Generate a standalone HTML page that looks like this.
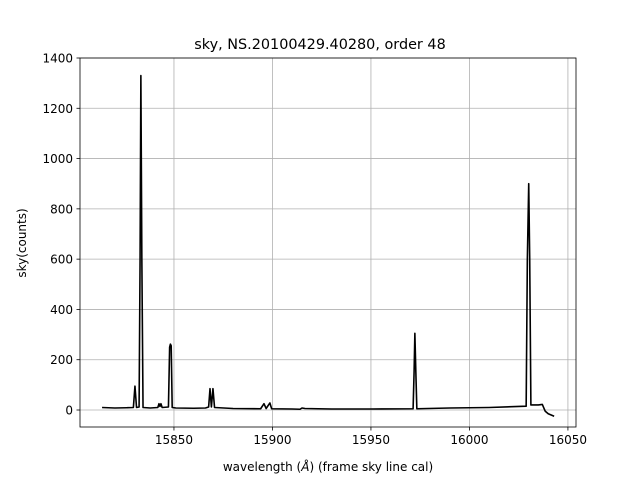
<!DOCTYPE html>
<html><head><meta charset="utf-8"><style>
body{margin:0;background:#fff;}
svg{display:block;font-family:"DejaVu Sans","Liberation Sans",sans-serif;}
</style></head><body>
<svg id="chart" width="640" height="480" xmlns="http://www.w3.org/2000/svg"></svg>
<script>
const wavelengths=[15813.5,15820,15826,15829.4,15830.2,15831,15832.3,15832.8,15833.2,15833.7,15834.3,15838,15841.8,15842.4,15842.9,15843.4,15844,15847.2,15847.8,15848.2,15848.6,15849.1,15851,15860,15866,15867.6,15868.3,15869,15869.8,15870.6,15880,15894,15895.7,15896.8,15898.7,15899.6,15910,15914,15915,15916.5,15930,15950,15971.4,15971.9,15972.3,15972.8,15973.3,15990,16010,16028.8,16029.4,16030.1,16030.6,16031.2,16035,16037,16038.5,16040,16043];
const skyCounts=[10,8,9,10,95,10,12,600,1330,600,10,8,10,25,14,25,10,12,250,262,255,10,8,7,8,12,85,12,85,10,6,5,25,6,28,5,4,3,8,6,4,4,5,150,305,150,5,8,10,15,600,900,600,20,20,22,-5,-15,-25];
const xTicks=[15850,15900,15950,16000,16050];
const yTicks=[0,200,400,600,800,1000,1200,1400];
const L=80,R=576,T=58,B=427;
const xmin=15802.3,xmax=16054.1,ymin=-67.6,ymax=1400;
const sx=v=>L+(v-xmin)/(xmax-xmin)*(R-L);
const sy=v=>B-(v-ymin)/(ymax-ymin)*(B-T);
const svg=document.getElementById('chart');
const NS='http://www.w3.org/2000/svg';
function mk(tag,attrs,parent){const e=document.createElementNS(NS,tag);for(const k in attrs)e.setAttribute(k,attrs[k]);(parent||svg).appendChild(e);return e;}
let t=mk('text',{x:320,y:49,'text-anchor':'middle','font-size':14.4});t.textContent='sky, NS.20100429.40280, order 48';


xTicks.forEach(v=>{const x=sx(v);
 let g=mk('line',{x1:x,x2:x,y1:T,y2:B,stroke:'#b0b0b0','stroke-width':0.8});
 
 
 mk('line',{x1:x,x2:x,y1:B,y2:B+3.5,stroke:'#000','stroke-width':0.8});
 let l=mk('text',{x:x,y:B+17,'text-anchor':'middle','font-size':12});l.textContent=v;
 
 });
yTicks.forEach(v=>{const y=sy(v);
 let g=mk('line',{x1:L,x2:R,y1:y,y2:y,stroke:'#b0b0b0','stroke-width':0.8});
 
 
 mk('line',{x1:L-3.5,x2:L,y1:y,y2:y,stroke:'#000','stroke-width':0.8});
 let l=mk('text',{x:L-7,y:y+4.5,'text-anchor':'end','font-size':12});l.textContent=v;
 
 });
let d=wavelengths.map((w,i)=>(i?'L':'M')+sx(w).toFixed(2)+','+sy(skyCounts[i]).toFixed(2)).join('');
let p=mk('path',{d:d,fill:'none',stroke:'#000','stroke-width':1.6,'stroke-linejoin':'round'});


let fr=mk('rect',{x:L,y:T,width:R-L,height:B-T,fill:'none',stroke:'#000','stroke-width':0.8});


let xl=mk('text',{x:328,y:471,'text-anchor':'middle','font-size':12});
xl.innerHTML='wavelength (<tspan font-style="italic">Å</tspan>) (frame sky line cal)';


let yl=mk('text',{x:26,y:243,'text-anchor':'middle','font-size':12,transform:'rotate(-90 26 243)'});yl.textContent='sky(counts)';


</script>
</body></html>
